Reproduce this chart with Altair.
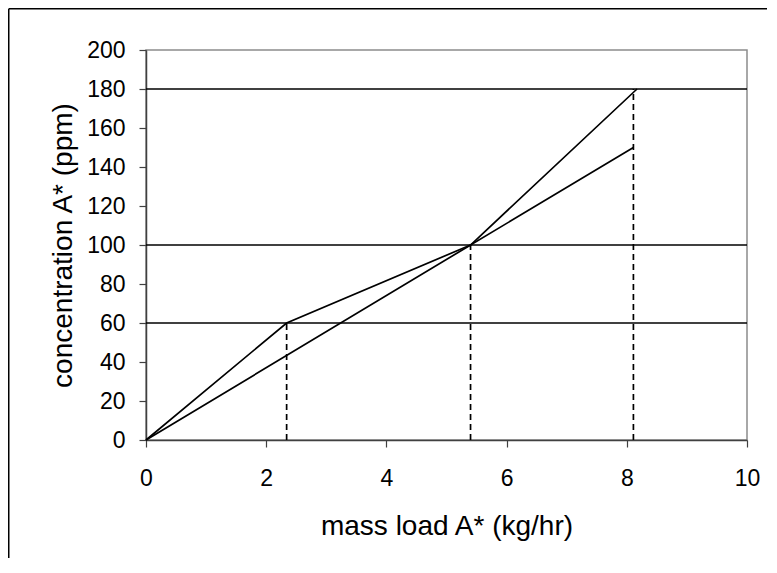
import altair as alt
import pandas as pd

# --- data ---
composite_x = [0, 2.34, 5.4, 8.11]
composite_y = [0, 60, 100, 150]
target_x = [0, 5.4, 8.17]
target_y = [0, 100, 180]
hline_y = [60, 100, 180]
vline_x = [2.34, 5.4, 8.11]
vline_top = [60, 100, 180]
x_ticks = [0, 2, 4, 6, 8, 10]
y_ticks = [0, 20, 40, 60, 80, 100, 120, 140, 160, 180, 200]

FONT = "Liberation Sans"
W, H = 601, 390
PAD = {"left": 138, "top": 42, "right": 20, "bottom": 118}

lines_df = pd.DataFrame({
    "x": composite_x + target_x,
    "y": composite_y + target_y,
    "series": ["composite"] * len(composite_x) + ["target"] * len(target_x),
})
h_df = pd.DataFrame({"y": hline_y, "x0": [0] * len(hline_y), "x1": [10] * len(hline_y)})
v_df = pd.DataFrame({"x": vline_x, "y0": [0] * len(vline_x), "y1": vline_top})

xs = alt.Scale(domain=[0, 10], nice=False, zero=True)
ys = alt.Scale(domain=[0, 200], nice=False, zero=True)

common = dict(grid=False, format="d", labelOverlap=False, labelFlush=False,
              labelFont=FONT, labelFontSize=23, labelColor="black",
              titleFont=FONT, titleFontSize=28, titleFontWeight="normal", titleColor="black",
              domainColor="#404040", domainWidth=1.5, tickColor="#404040", tickWidth=1.2,
              tickSize=7)

x_axis = alt.Axis(values=x_ticks, title="mass load A* (kg/hr)",
                  labelPadding=20, titlePadding=22, **common)
y_axis = alt.Axis(values=y_ticks, title="concentration A* (ppm)",
                  labelPadding=14, titlePadding=9, **common)

lines = alt.Chart(lines_df).mark_line(color="black", strokeWidth=1.7).encode(
    x=alt.X("x:Q", scale=xs, axis=x_axis),
    y=alt.Y("y:Q", scale=ys, axis=y_axis),
    detail="series:N",
)

hlines = alt.Chart(h_df).mark_rule(color="black", strokeWidth=1.7).encode(
    x=alt.X("x0:Q", scale=xs, axis=x_axis), x2="x1:Q", y=alt.Y("y:Q", scale=ys, axis=y_axis)
)

vlines = alt.Chart(v_df).mark_rule(color="black", strokeWidth=1.7, strokeDash=[6, 4]).encode(
    x=alt.X("x:Q", scale=xs, axis=x_axis), y=alt.Y("y0:Q", scale=ys, axis=y_axis), y2="y1:Q"
)

dummy = pd.DataFrame({"a": [0]})
frame_top = alt.Chart(dummy).mark_rule(color="black", strokeWidth=1.5).encode(
    x=alt.value(-PAD["left"] + 0.75), x2=alt.value(W + PAD["right"]), y=alt.value(-PAD["top"] + 0.75)
)
frame_left = alt.Chart(dummy).mark_rule(color="black", strokeWidth=1.5).encode(
    x=alt.value(-PAD["left"] + 0.75), y=alt.value(-PAD["top"] + 0.75), y2=alt.value(H + PAD["bottom"])
)

chart = alt.layer(frame_top, frame_left, hlines, vlines, lines).properties(
    width=W, height=H, autosize=alt.AutoSizeParams(type="none"), padding=PAD
).configure_view(
    stroke="#8c8c8c", strokeWidth=1.5
)

chart.save("out.html", embed_options={"renderer": "svg", "actions": False})
